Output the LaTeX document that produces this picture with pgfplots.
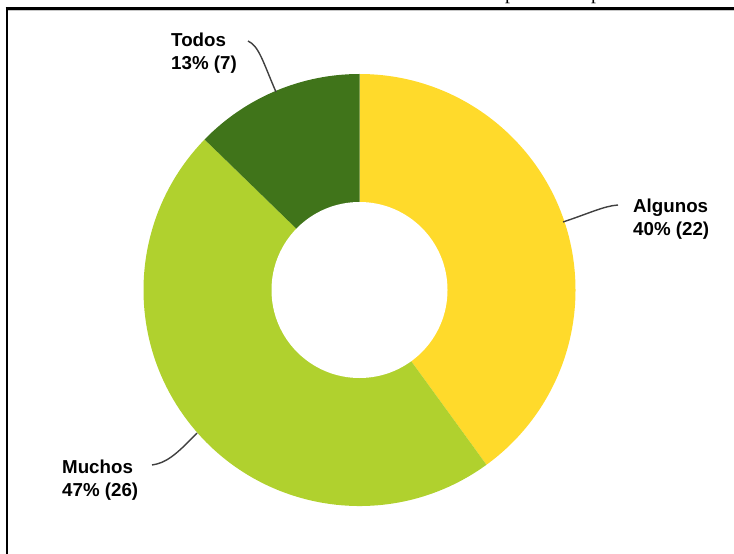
\documentclass[border=0pt]{standalone}
\usepackage{pgfplots}
\usepackage{pgfplotstable}
\pgfplotsset{compat=1.18}
\usepackage{fontspec}
\setmainfont{Liberation Sans}
\newfontfamily\serifp{Liberation Serif}
\definecolor{cAlg}{HTML}{FFDA2B}
\definecolor{cMuc}{HTML}{B0D12E}
\definecolor{cTod}{HTML}{40741A}
\definecolor{leader}{HTML}{404040}
\pgfplotstableread{
label pct count
Algunos 40 22
Muchos 47 26
Todos 13 7
}\piedata
\begin{document}
\begin{tikzpicture}
\pgfplotstablegetelem{0}{count}\of\piedata \edef\vA{\pgfplotsretval}
\pgfplotstablegetelem{1}{count}\of\piedata \edef\vB{\pgfplotsretval}
\pgfplotstablegetelem{2}{count}\of\piedata \edef\vC{\pgfplotsretval}
\pgfmathsetmacro\tot{\vA+\vB+\vC}
\pgfmathsetmacro\aZ{90}
\pgfmathsetmacro\aA{\aZ-360*\vA/\tot}
\pgfmathsetmacro\aB{\aA-360*\vB/\tot}
\pgfmathsetmacro\aC{\aB-360*\vC/\tot}
\begin{axis}[x=1bp,y=1bp,xmin=0,xmax=734,ymin=-554,ymax=0,
  hide axis, clip=false, disabledatascaling]
% frame
\draw[black!22, line width=1.3bp] (axis cs:8,-10.7) -- (axis cs:734,-10.7);
\draw[black, line width=2.6bp] (axis cs:5.6,-8.7) -- (axis cs:734,-8.7);
\draw[black, line width=2.3bp] (axis cs:6.8,-7.4) -- (axis cs:6.8,-554);
% fragments of text above frame
\node[anchor=base, inner sep=0pt, font=\serifp\fontsize{20}{24}\selectfont] at (axis cs:510,0.6) {p};
\node[anchor=base, inner sep=0pt, font=\serifp\fontsize{20}{24}\selectfont] at (axis cs:596,0.6) {p};
% donut wedges
\fill[cAlg] (axis cs:359.5,-290) -- ++(\aZ:216bp) arc[start angle=\aZ, end angle=\aA, radius=216bp] -- cycle;
\fill[cMuc] (axis cs:359.5,-290) -- ++(\aA:216bp) arc[start angle=\aA, end angle=\aB, radius=216bp] -- cycle;
\fill[cTod] (axis cs:359.5,-290) -- ++(\aB:216bp) arc[start angle=\aB, end angle=\aC, radius=216bp] -- cycle;
\fill[white] (axis cs:359.5,-290) circle[radius=88bp];
% leader lines
\draw[leader, line width=1.4bp] (axis cs:276,-92) .. controls (axis cs:263,-62) and (axis cs:259,-46) .. (axis cs:248,-41);
\draw[leader, line width=1.4bp] (axis cs:563,-222) .. controls (axis cs:590,-213) and (axis cs:604,-206) .. (axis cs:618,-205);
\draw[leader, line width=1.4bp] (axis cs:197,-433) .. controls (axis cs:176,-455) and (axis cs:166,-463) .. (axis cs:152,-465);
% labels
\tikzset{lbl/.style={anchor=base west, inner sep=0pt, font=\bfseries\fontsize{18.8}{22}\selectfont}}
\node[lbl] at (axis cs:171,-46.5) {Todos};
\node[lbl] at (axis cs:171,-69.5) {13\% (7)};
\node[lbl] at (axis cs:633,-213) {Algunos};
\node[lbl] at (axis cs:633,-236) {40\% (22)};
\node[lbl] at (axis cs:62,-473) {Muchos};
\node[lbl] at (axis cs:62,-496) {47\% (26)};
\coordinate (ll) at (axis cs:0,-554);
\coordinate (ur) at (axis cs:734,0);
\end{axis}
\pgfresetboundingbox
\useasboundingbox (ll) rectangle (ur);
\end{tikzpicture}
\end{document}
